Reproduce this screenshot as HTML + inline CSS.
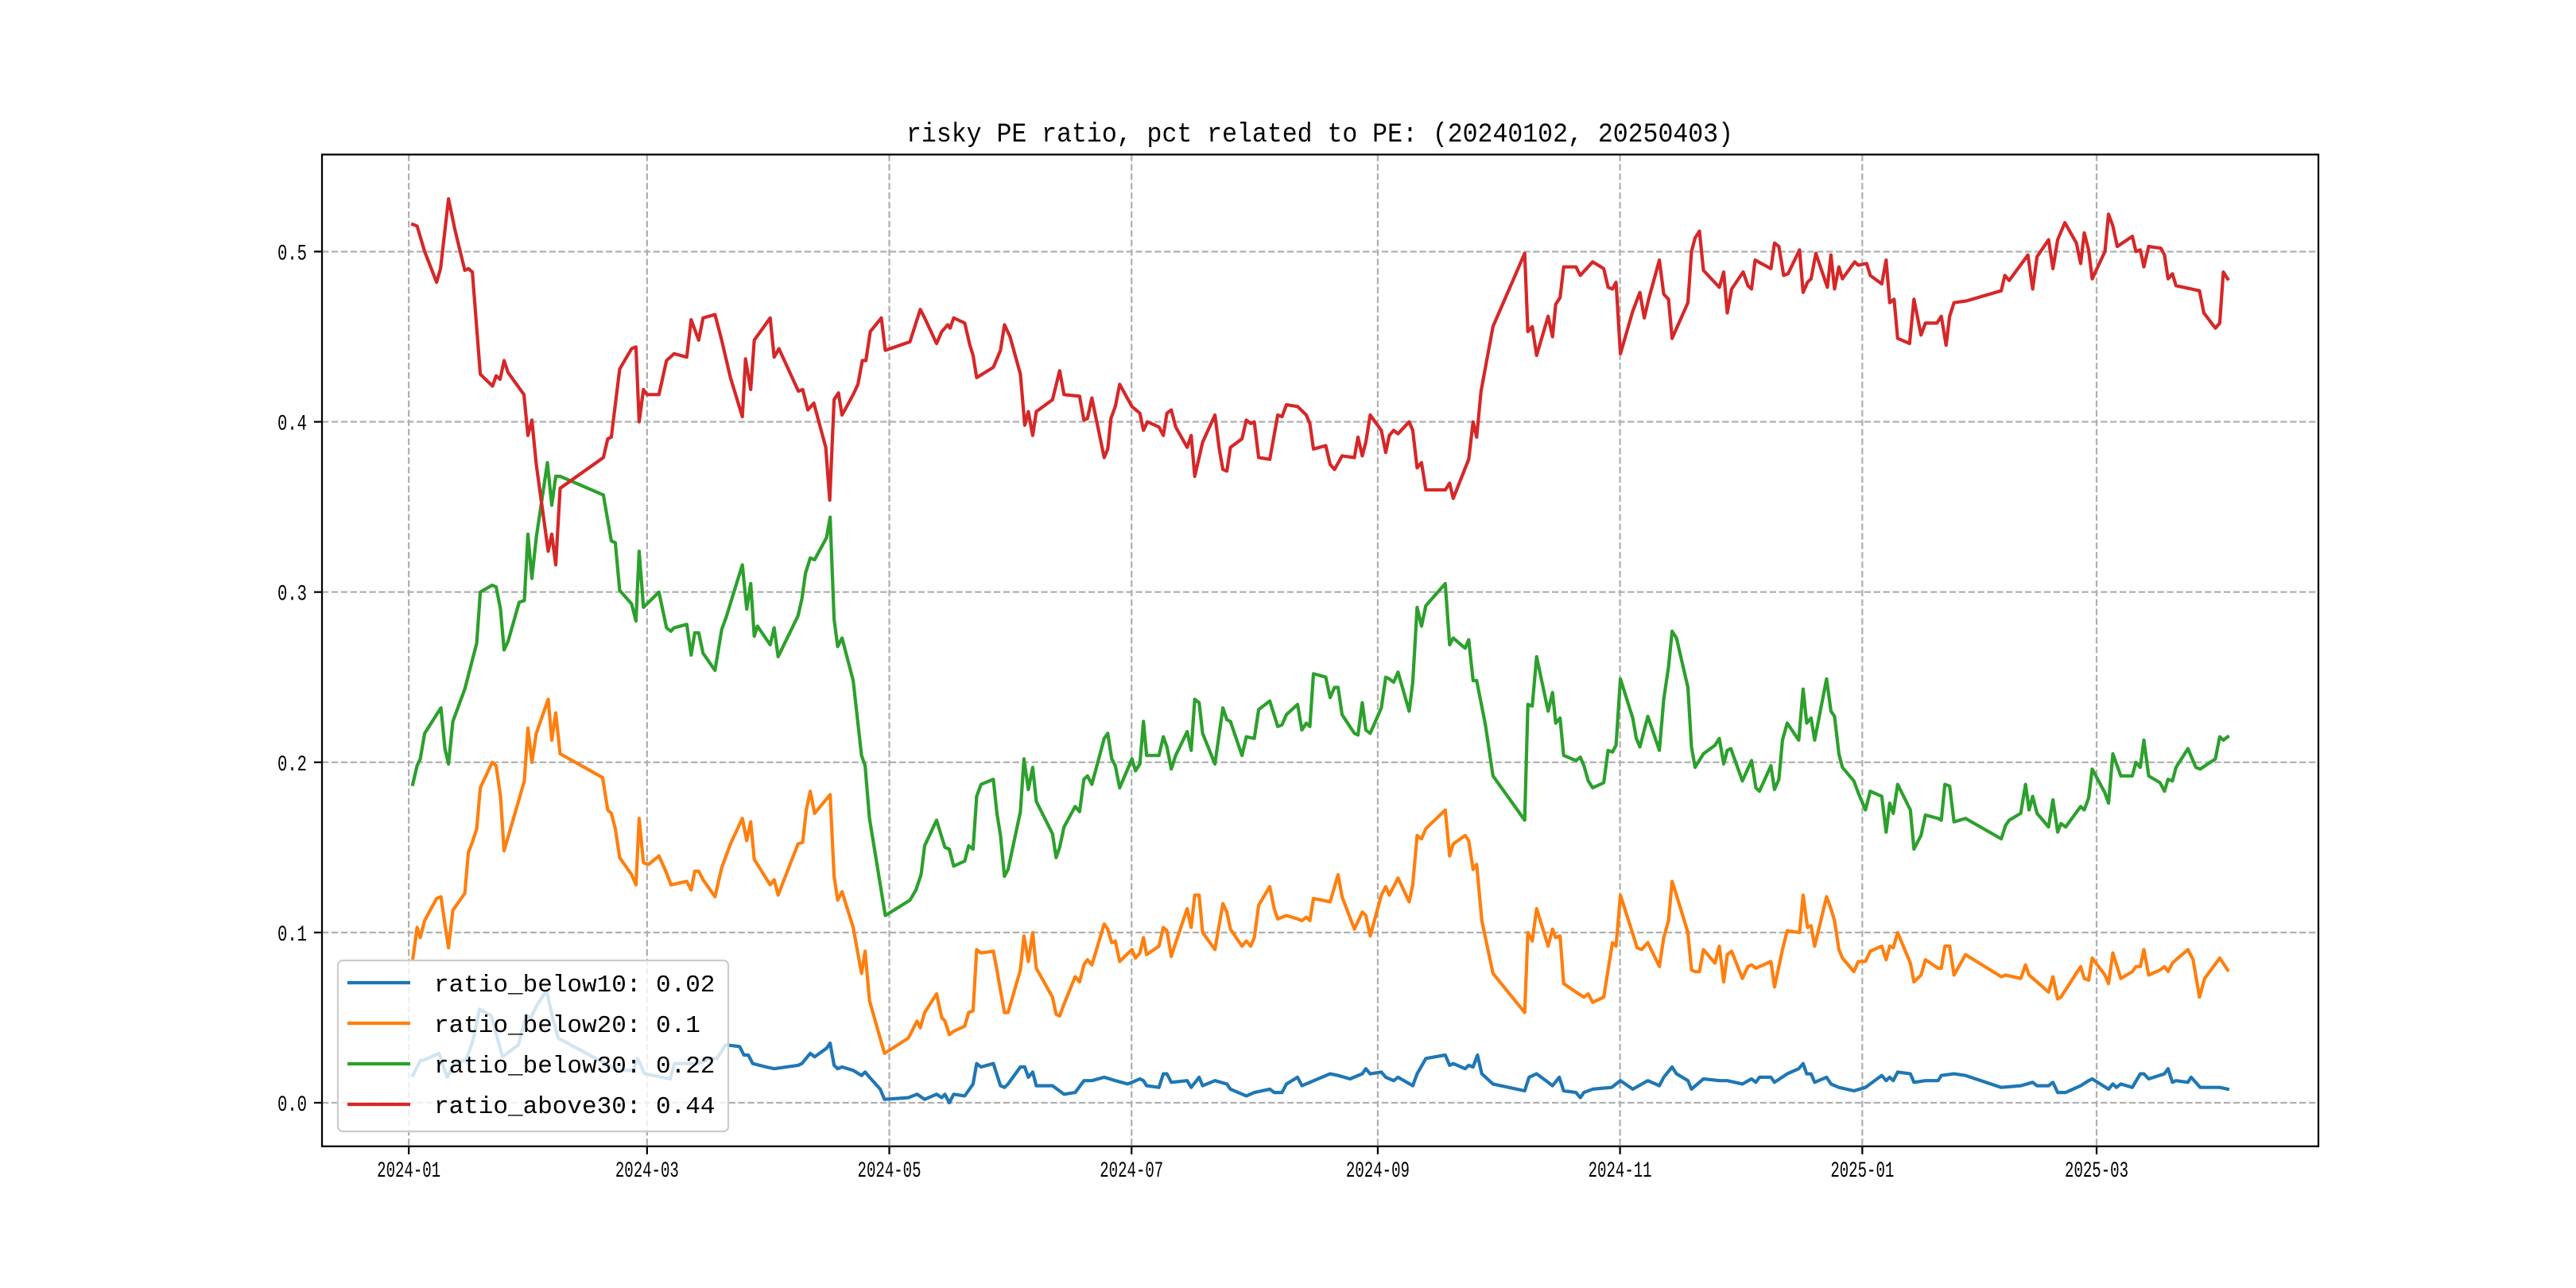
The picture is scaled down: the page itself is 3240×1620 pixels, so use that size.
<!DOCTYPE html>
<html>
<head>
<meta charset="utf-8">
<title>risky PE ratio</title>
<style>
  html, body { margin: 0; padding: 0; background: #ffffff; }
  body { width: 3240px; height: 1620px; overflow: hidden; }
  svg { display: block; }
  text { font-family: "Liberation Mono", "Noto Sans CJK SC", monospace; fill: #000; }
</style>
</head>
<body>
<svg id="chart" xmlns="http://www.w3.org/2000/svg" width="3240" height="1620" viewBox="0 0 3240 1620">
  <rect x="0" y="0" width="3240" height="1620" fill="#ffffff"/>
  <text x="1660" y="178" text-anchor="middle" font-size="34" textLength="1040" lengthAdjust="spacingAndGlyphs">risky PE ratio, pct related to PE: (20240102, 20250403)</text>
  <g id="grid"></g>
  <g id="series"></g>
  <rect x="405" y="194.4" width="2511" height="1247.4" fill="none" stroke="#000" stroke-width="2.25"/>
  <g id="ticks"></g>
  <g id="legend"></g>
</svg>
<script>
// ---- axis tick data ----
const xTickDays = [-1, 59, 120, 181, 243, 304, 365, 424];
const xTickLabels = ["2024-01", "2024-03", "2024-05", "2024-07", "2024-09", "2024-11", "2025-01", "2025-03"];
const yTickValues = [0.0, 0.1, 0.2, 0.3, 0.4, 0.5];
const yTickLabels = ["0.0", "0.1", "0.2", "0.3", "0.4", "0.5"];
const seriesNames = ["ratio_below10", "ratio_below20", "ratio_below30", "ratio_above30"];
const legendValues = ["0.02", "0.1", "0.22", "0.44"];
const seriesColors = ["#1f77b4", "#ff7f0e", "#2ca02c", "#d62728"];

// ---- series data: [day offset from 2024-01-02, value] ----
const below10 = [[0,0.016],[2,0.025],[2.7,0.025],[6.6,0.029],[8.7,0.015],[10.5,0.023],[13.4,0.025],[14.8,0.034],[15.5,0.040],[16.8,0.055],[19.8,0.051],[22.6,0.027],[26.6,0.034],[28.5,0.051],[29.8,0.050],[31.2,0.057],[33.7,0.066],[35.1,0.051],[36.6,0.038],[51.6,0.019],[55.5,0.019],[56.6,0.026],[58.4,0.017],[64.8,0.014],[65.9,0.023],[69.1,0.023],[72,0.023],[74.8,0.026],[76.6,0.026],[78.8,0.034],[82.3,0.033],[83.4,0.028],[84.5,0.028],[85.6,0.023],[89,0.021],[91,0.020],[97,0.022],[98,0.023],[100.1,0.029],[101.2,0.027],[104.2,0.032],[105.1,0.035],[106.1,0.022],[107,0.020],[108.1,0.021],[110.9,0.019],[113,0.016],[113.9,0.018],[115,0.015],[117.7,0.008],[118.8,0.002],[124.8,0.003],[127,0.005],[128.9,0.002],[131.9,0.005],[133.2,0.003],[134,0.005],[135.1,0.000],[136.2,0.005],[139,0.004],[141.1,0.011],[142,0.023],[143.1,0.021],[146.2,0.023],[148,0.010],[149,0.009],[149.9,0.011],[153,0.021],[154.1,0.021],[155,0.015],[156.1,0.018],[157,0.010],[161.1,0.010],[164,0.005],[166.8,0.006],[169,0.013],[171,0.013],[174.1,0.015],[176.9,0.013],[180,0.011],[181.1,0.012],[183.1,0.014],[184,0.013],[184.8,0.010],[187.9,0.009],[189,0.017],[189.9,0.017],[191,0.012],[195,0.013],[196,0.009],[198,0.015],[198.9,0.010],[202,0.013],[205,0.011],[205.9,0.008],[209.9,0.004],[211.9,0.006],[215.8,0.008],[216.9,0.006],[218.9,0.006],[220,0.011],[222.8,0.015],[223.9,0.010],[225.9,0.012],[231,0.017],[233,0.016],[236,0.014],[239.1,0.017],[240,0.020],[241.1,0.017],[243.9,0.018],[245,0.015],[247,0.013],[248.1,0.015],[251.8,0.010],[252.9,0.017],[255.1,0.026],[260,0.028],[261.1,0.022],[262,0.023],[265,0.020],[265.9,0.022],[267,0.021],[268.1,0.028],[269.2,0.017],[272,0.011],[280,0.007],[281.1,0.015],[283,0.017],[285.9,0.012],[287,0.010],[288.7,0.015],[289.8,0.007],[292.9,0.006],[294,0.003],[294.9,0.006],[297.1,0.008],[301.9,0.009],[303,0.011],[304.1,0.013],[307.2,0.008],[311,0.013],[313.9,0.010],[315,0.015],[317.1,0.021],[318.2,0.017],[321.1,0.013],[322,0.008],[325,0.014],[329,0.013],[331,0.013],[334.8,0.011],[337.1,0.014],[338.2,0.012],[339.1,0.015],[342,0.015],[342.9,0.012],[346.1,0.017],[349,0.020],[350.1,0.023],[351,0.017],[352.1,0.017],[353,0.012],[356,0.015],[357.1,0.011],[359.1,0.009],[362.9,0.007],[365.8,0.009],[369.9,0.016],[371,0.013],[371.9,0.015],[372.8,0.013],[373.9,0.018],[377.1,0.017],[378,0.012],[380.9,0.013],[384.1,0.013],[384.9,0.016],[388.1,0.017],[391,0.016],[400,0.009],[404.9,0.010],[407.9,0.012],[409,0.010],[411.9,0.010],[413,0.012],[414.2,0.006],[416.2,0.006],[420,0.010],[422,0.013],[422.9,0.014],[427,0.008],[428.1,0.011],[429,0.009],[430.1,0.011],[433,0.009],[435,0.017],[435.9,0.017],[437.1,0.014],[441.1,0.017],[442,0.020],[443.1,0.012],[444,0.013],[447,0.012],[447.8,0.015],[450.1,0.009],[455,0.009],[457,0.008]];

const below20 = [[0,0.084],[1.1,0.103],[1.9,0.097],[3,0.107],[6,0.120],[7.1,0.121],[8.1,0.105],[9,0.091],[10.1,0.113],[13.1,0.123],[14,0.147],[15,0.153],[16.1,0.161],[17,0.185],[20,0.200],[21,0.198],[22.1,0.180],[23,0.148],[28.1,0.189],[29,0.220],[30,0.200],[31.1,0.217],[34.1,0.237],[35,0.213],[36,0.229],[37.1,0.205],[47.8,0.191],[49.1,0.172],[50,0.170],[51,0.161],[52.1,0.144],[55.1,0.134],[56.2,0.128],[57,0.167],[58.1,0.141],[59.4,0.140],[62,0.145],[63.9,0.135],[65,0.128],[69,0.130],[70.1,0.125],[71,0.136],[72,0.136],[73.1,0.131],[76.1,0.121],[77.8,0.138],[80,0.152],[83,0.167],[84.1,0.154],[85.1,0.165],[86,0.143],[90,0.128],[91,0.131],[92,0.122],[97,0.152],[98.2,0.153],[99.1,0.172],[100.1,0.183],[101.2,0.170],[105.1,0.181],[106.1,0.133],[107,0.119],[108.1,0.124],[110.9,0.103],[113,0.076],[113.9,0.089],[115,0.060],[118.8,0.029],[124.8,0.038],[127,0.048],[127.8,0.044],[128.9,0.053],[131.9,0.064],[133.2,0.050],[134,0.048],[135.1,0.040],[136.2,0.042],[139,0.045],[140,0.053],[141.1,0.054],[142,0.090],[143.1,0.088],[146.2,0.089],[147.1,0.078],[148,0.066],[149,0.053],[149.9,0.053],[153,0.078],[153.9,0.098],[155,0.083],[156.1,0.100],[157,0.079],[161.1,0.062],[162,0.052],[162.9,0.051],[164,0.058],[166.8,0.074],[167.9,0.071],[169,0.081],[169.9,0.084],[171,0.081],[174.1,0.105],[175,0.102],[176,0.094],[176.9,0.095],[178,0.083],[181.1,0.090],[182,0.085],[183.1,0.088],[184,0.097],[184.8,0.087],[187.9,0.092],[189,0.103],[189.9,0.101],[191,0.086],[192.1,0.094],[195,0.114],[196,0.103],[196.9,0.122],[198,0.122],[198.9,0.100],[202,0.090],[204,0.117],[205,0.112],[205.9,0.102],[208.8,0.092],[209.9,0.095],[211,0.092],[211.9,0.097],[213,0.116],[215.8,0.127],[216.9,0.114],[217.8,0.108],[220,0.110],[222.8,0.108],[223.9,0.107],[225,0.109],[225.9,0.107],[226.8,0.120],[231,0.118],[233,0.134],[234,0.121],[237.1,0.102],[239.1,0.112],[240,0.110],[241.1,0.098],[243.9,0.122],[245,0.127],[245.9,0.122],[248.1,0.132],[250.9,0.118],[251.8,0.128],[252.9,0.157],[254,0.155],[255.1,0.161],[260,0.172],[261.1,0.145],[262,0.152],[265,0.157],[265.9,0.154],[267,0.137],[267.9,0.140],[269.2,0.107],[272,0.076],[280,0.053],[280.8,0.100],[281.9,0.095],[283,0.114],[285.9,0.092],[287,0.102],[287.8,0.097],[288.9,0.098],[289.8,0.070],[292.9,0.065],[294.9,0.062],[296,0.064],[297.1,0.059],[299.9,0.062],[302.1,0.094],[303,0.092],[304.1,0.122],[306.7,0.103],[308.3,0.091],[309.4,0.090],[311,0.094],[313.9,0.080],[315,0.097],[316.2,0.107],[317.1,0.130],[318.2,0.122],[321.1,0.100],[322,0.078],[322.9,0.077],[324,0.077],[325,0.090],[327.9,0.082],[329,0.092],[330.1,0.071],[331,0.087],[332.1,0.089],[334.8,0.073],[336.2,0.080],[337.1,0.081],[338.2,0.079],[342,0.083],[342.9,0.068],[344.9,0.090],[346.1,0.101],[349.2,0.100],[350.1,0.122],[351.2,0.103],[352.1,0.104],[353,0.092],[356,0.121],[357.1,0.114],[358,0.107],[359.1,0.090],[360,0.085],[362.9,0.077],[364,0.083],[365.8,0.083],[367,0.089],[369.9,0.092],[371,0.084],[371.9,0.092],[372.8,0.091],[373.9,0.100],[377.1,0.082],[378,0.071],[379.8,0.075],[380.9,0.084],[384.1,0.079],[384.9,0.079],[385.8,0.092],[387,0.092],[388.1,0.075],[391,0.087],[400,0.074],[401.1,0.075],[404.9,0.073],[406.1,0.081],[407,0.075],[409,0.071],[411.9,0.065],[413,0.074],[414.2,0.061],[415,0.062],[420,0.080],[420.9,0.073],[422,0.072],[422.9,0.085],[426.1,0.075],[427,0.070],[428.1,0.088],[430.1,0.073],[433,0.077],[433.9,0.080],[435,0.080],[435.9,0.090],[437.1,0.075],[440,0.078],[441.1,0.080],[442,0.077],[443.1,0.082],[444,0.084],[447,0.090],[448.3,0.084],[449.9,0.062],[451.2,0.073],[455,0.085],[457,0.078]];

const below30 = [[0,0.187],[1.1,0.198],[1.9,0.202],[3,0.217],[7.1,0.232],[8.1,0.208],[9,0.199],[10.1,0.224],[13.1,0.243],[16.1,0.270],[17,0.300],[20,0.304],[21,0.303],[22.1,0.290],[23,0.266],[24,0.271],[26.8,0.294],[28.1,0.295],[29,0.334],[30,0.308],[31.1,0.332],[33.9,0.376],[35,0.351],[36,0.368],[37.1,0.368],[48,0.357],[50,0.330],[51,0.329],[52.1,0.301],[55.1,0.293],[56.2,0.283],[57,0.324],[58.1,0.291],[62,0.300],[63.9,0.279],[65,0.277],[65.8,0.279],[69,0.281],[70.1,0.263],[71,0.276],[72,0.276],[73.1,0.264],[76.1,0.254],[77.8,0.278],[78.9,0.285],[83,0.316],[84.1,0.290],[85.1,0.305],[86,0.274],[86.8,0.280],[90,0.269],[91,0.279],[92,0.262],[97,0.286],[98,0.296],[98.9,0.311],[100.1,0.320],[101.2,0.319],[104.2,0.332],[105.1,0.344],[106.1,0.284],[107,0.268],[108.1,0.273],[110.9,0.248],[113,0.204],[113.9,0.198],[115,0.167],[119,0.110],[125.2,0.119],[126.7,0.125],[128,0.134],[128.9,0.151],[131.9,0.166],[133.2,0.156],[134,0.150],[135.1,0.149],[136.2,0.139],[139,0.142],[140,0.151],[141.1,0.149],[142,0.180],[143.1,0.187],[146.2,0.190],[147.1,0.170],[148,0.157],[149,0.133],[149.9,0.137],[153,0.171],[153.9,0.202],[155,0.184],[156.1,0.197],[157,0.177],[161.1,0.158],[162,0.144],[162.9,0.150],[164,0.162],[166.8,0.174],[167.9,0.171],[169,0.190],[169.9,0.192],[171,0.187],[174.1,0.214],[175,0.217],[176,0.202],[176.9,0.198],[178,0.185],[181.1,0.202],[182,0.195],[183.1,0.199],[184,0.224],[184.8,0.204],[187.9,0.204],[189,0.215],[189.9,0.209],[191,0.196],[192.1,0.204],[195,0.218],[196,0.207],[196.9,0.237],[198,0.235],[198.9,0.217],[202,0.199],[204,0.232],[205,0.225],[205.9,0.224],[208.8,0.204],[209.9,0.215],[211.9,0.214],[213,0.231],[215.8,0.236],[217.8,0.221],[218.9,0.222],[220,0.228],[222.8,0.234],[223.9,0.219],[225,0.223],[225.9,0.221],[226.8,0.252],[229.9,0.250],[231,0.238],[232.1,0.244],[233,0.244],[234,0.228],[237.1,0.217],[238,0.216],[239.1,0.235],[240,0.219],[241.1,0.217],[243.9,0.232],[245,0.250],[245.9,0.249],[247,0.247],[248.1,0.253],[250.9,0.230],[251.8,0.247],[252.9,0.291],[254,0.280],[255.1,0.292],[260,0.305],[261.1,0.269],[262,0.273],[265,0.267],[265.9,0.272],[267,0.248],[267.9,0.248],[270.1,0.222],[272,0.192],[280,0.166],[280.8,0.234],[281.9,0.233],[283,0.262],[285.9,0.230],[287,0.241],[287.8,0.223],[288.9,0.226],[289.8,0.204],[292.9,0.201],[294,0.203],[294.9,0.198],[296,0.189],[297.1,0.185],[299.9,0.188],[301,0.207],[302.1,0.206],[303,0.210],[304.1,0.249],[307.2,0.226],[308.1,0.214],[309,0.209],[310.1,0.219],[311,0.227],[313.9,0.207],[315,0.237],[316.2,0.256],[317.1,0.277],[318.2,0.273],[321.1,0.244],[322,0.209],[322.9,0.197],[325,0.205],[327.9,0.210],[329,0.214],[330.1,0.199],[331,0.207],[331.9,0.208],[334.8,0.189],[337.1,0.201],[338.2,0.185],[339.1,0.183],[342,0.198],[342.9,0.184],[344,0.190],[344.9,0.213],[346.1,0.223],[349,0.213],[350.1,0.243],[351,0.223],[352.1,0.226],[353,0.213],[356,0.249],[357.1,0.230],[358,0.227],[359.1,0.205],[360,0.197],[362.9,0.189],[364,0.182],[365.8,0.172],[367,0.183],[369.9,0.180],[371,0.159],[371.9,0.176],[372.8,0.170],[373.9,0.187],[377.1,0.172],[378,0.149],[379.8,0.157],[380.9,0.169],[384.1,0.167],[384.9,0.166],[385.8,0.187],[387,0.186],[388.1,0.165],[391,0.167],[400,0.155],[401.1,0.163],[402,0.166],[404.9,0.170],[406.1,0.187],[407,0.172],[407.9,0.180],[409,0.170],[411.9,0.162],[413,0.178],[414.2,0.159],[415,0.164],[416.2,0.162],[420,0.174],[420.9,0.172],[422,0.179],[422.9,0.196],[426.1,0.182],[427,0.176],[428.1,0.205],[430.1,0.192],[433,0.192],[433.9,0.200],[435,0.197],[435.9,0.213],[437.1,0.192],[440,0.188],[441.1,0.183],[442,0.190],[443.1,0.189],[444,0.197],[447,0.208],[449,0.197],[450.1,0.196],[453.9,0.202],[455,0.215],[455.9,0.213],[457,0.215]];

const above30 = [[0,0.516],[1.1,0.515],[3,0.500],[6,0.482],[7,0.490],[9,0.531],[10.7,0.512],[13.1,0.489],[14,0.490],[15,0.488],[17,0.428],[20.1,0.421],[21,0.427],[22,0.425],[23,0.436],[24,0.429],[28,0.416],[29,0.392],[30,0.401],[31.1,0.375],[34.1,0.324],[35,0.334],[36,0.316],[37.1,0.361],[48,0.379],[49.1,0.390],[50,0.391],[52.1,0.431],[55.1,0.443],[56.2,0.444],[57,0.400],[58.1,0.419],[59,0.416],[62,0.416],[63.9,0.436],[65.8,0.440],[69,0.438],[70.1,0.460],[72,0.448],[73.1,0.461],[76.1,0.463],[77.8,0.448],[80,0.426],[83,0.403],[83.8,0.437],[85.1,0.419],[86,0.448],[90,0.461],[91,0.438],[92.2,0.443],[97.1,0.418],[98.2,0.419],[99.5,0.407],[101,0.411],[104,0.385],[105,0.354],[106.1,0.413],[107.2,0.417],[108.1,0.404],[110.9,0.416],[112.1,0.422],[113.2,0.436],[114.1,0.436],[115.2,0.453],[118,0.461],[119,0.442],[125.2,0.447],[127.8,0.466],[128.9,0.461],[131.9,0.446],[133.2,0.453],[134.7,0.457],[135.3,0.455],[136.2,0.461],[139,0.458],[140.3,0.445],[141.1,0.439],[142,0.426],[146.2,0.432],[148,0.442],[149,0.457],[150.4,0.450],[153,0.428],[154.1,0.398],[155,0.406],[156.1,0.392],[157,0.406],[161.1,0.413],[162.9,0.430],[164,0.416],[167.9,0.415],[169,0.401],[169.9,0.402],[171,0.414],[174.1,0.379],[175,0.384],[175.8,0.402],[176.9,0.409],[178,0.422],[181.1,0.409],[183.1,0.405],[184,0.395],[185,0.400],[187.9,0.397],[189,0.392],[189.9,0.405],[191,0.407],[192.1,0.397],[195,0.385],[196,0.392],[196.9,0.368],[198.9,0.388],[202,0.404],[203.1,0.384],[204,0.372],[205,0.371],[205.9,0.385],[208.8,0.390],[209.9,0.401],[211,0.399],[211.9,0.400],[213,0.379],[215.8,0.378],[217.8,0.404],[218.9,0.403],[220,0.410],[222.8,0.409],[225,0.404],[225.9,0.399],[226.8,0.384],[229.9,0.386],[231,0.375],[232.1,0.372],[234,0.380],[237.1,0.379],[238,0.391],[239.1,0.380],[240,0.388],[241.1,0.404],[243.9,0.395],[245,0.382],[245.9,0.392],[247,0.395],[248.1,0.393],[250.9,0.400],[251.8,0.395],[252.9,0.373],[254,0.376],[255.1,0.360],[260,0.360],[261.1,0.364],[262,0.355],[265.9,0.378],[267,0.400],[267.9,0.391],[269,0.418],[272,0.456],[280,0.499],[280.8,0.453],[281.9,0.456],[283,0.439],[285.9,0.462],[287,0.450],[287.8,0.469],[288.9,0.473],[289.8,0.491],[292.9,0.491],[294,0.486],[297.1,0.494],[299.9,0.490],[301,0.479],[302.1,0.478],[303,0.482],[304.1,0.440],[307.2,0.465],[309,0.476],[310.1,0.461],[311.2,0.472],[313.9,0.495],[315,0.475],[316.2,0.472],[317.1,0.449],[321.1,0.470],[322,0.500],[322.9,0.508],[324,0.512],[325,0.489],[329,0.479],[330.1,0.488],[331,0.464],[332.1,0.478],[335,0.488],[336.2,0.480],[337.1,0.478],[338,0.495],[342,0.490],[342.9,0.505],[344,0.503],[345.2,0.486],[346.3,0.487],[349.2,0.501],[350.1,0.476],[351.2,0.482],[352.1,0.484],[353.3,0.499],[356.2,0.479],[357.1,0.498],[358,0.478],[359.1,0.491],[360,0.484],[363.1,0.494],[364,0.492],[366.1,0.493],[367,0.486],[369.9,0.481],[371,0.495],[371.9,0.470],[373,0.472],[373.9,0.449],[376.9,0.446],[378,0.472],[379.8,0.451],[380.9,0.458],[383.8,0.458],[384.9,0.462],[386.1,0.445],[387,0.462],[388.1,0.470],[391.2,0.471],[400,0.477],[400.9,0.486],[402,0.483],[406.7,0.498],[407.9,0.478],[409,0.497],[411.9,0.507],[413,0.490],[414.2,0.507],[416,0.517],[418.9,0.505],[420,0.493],[420.9,0.511],[422,0.501],[422.9,0.484],[426.1,0.500],[427,0.522],[428.1,0.515],[429.2,0.503],[433,0.509],[433.9,0.500],[435,0.501],[435.9,0.491],[437.1,0.503],[440.2,0.502],[441.1,0.498],[442,0.484],[443.1,0.487],[444,0.480],[449.9,0.477],[451,0.464],[453.9,0.455],[455,0.458],[455.9,0.488],[457,0.484]];

// ---- axis setup ----
const NS = "http://www.w3.org/2000/svg";
const AX = { left: 405, right: 2916, top: 194.4, bottom: 1441.8 };
const firstDay = 0, lastDay = 457;
const xPad = (lastDay - firstDay) * 0.05;
const xMin = firstDay - xPad, xMax = lastDay + xPad;
const yMin = -0.0256, yMax = 0.557;
function xScale(d) { return AX.left + (d - xMin) / (xMax - xMin) * (AX.right - AX.left); }
function yScale(v) { return AX.bottom - (v - yMin) / (yMax - yMin) * (AX.bottom - AX.top); }
function mk(tag, attrs) {
  const el = document.createElementNS(NS, tag);
  for (const k in attrs) el.setAttribute(k, attrs[k]);
  return el;
}

const grid = document.getElementById("grid");
const ticks = document.getElementById("ticks");

// x grid + ticks
xTickDays.forEach((d, i) => {
  const x = xScale(d);
  const gl = mk("line", { x1: x, x2: x, y1: AX.top, y2: AX.bottom, stroke: "#b0b0b0", "stroke-width": 2.25, "stroke-dasharray": "8.3 3.6" });
  
  
  grid.appendChild(gl);
  const tk = mk("line", { x1: x, x2: x, y1: AX.bottom, y2: AX.bottom + 10, stroke: "#000", "stroke-width": 2.25 });
  
  
  ticks.appendChild(tk);
  const tx = mk("text", { x: x, y: AX.bottom + 38, "text-anchor": "middle", "font-size": 28, textLength: 80, lengthAdjust: "spacingAndGlyphs" });
  tx.textContent = xTickLabels[i];
  
  
  ticks.appendChild(tx);
});

// y grid + ticks
yTickValues.forEach((v, i) => {
  const y = yScale(v);
  const gl = mk("line", { x1: AX.left, x2: AX.right, y1: y, y2: y, stroke: "#b0b0b0", "stroke-width": 2.25, "stroke-dasharray": "8.3 3.6" });
  
  
  grid.appendChild(gl);
  const tk = mk("line", { x1: AX.left - 10, x2: AX.left, y1: y, y2: y, stroke: "#000", "stroke-width": 2.25 });
  
  
  ticks.appendChild(tk);
  const tx = mk("text", { x: AX.left - 19, y: y + 10, "text-anchor": "end", "font-size": 28, textLength: 37, lengthAdjust: "spacingAndGlyphs" });
  tx.textContent = yTickLabels[i];
  
  
  ticks.appendChild(tx);
});

// series
const seriesGroup = document.getElementById("series");
const allSeries = [below10, below20, below30, above30];
const seriesKeys = ["line-below10", "line-below20", "line-below30", "line-above30"];
allSeries.forEach((s, i) => {
  const pts = s.map(p => xScale(p[0]).toFixed(1) + "," + yScale(p[1]).toFixed(1)).join(" ");
  const pl = mk("polyline", { points: pts, fill: "none", stroke: seriesColors[i], "stroke-width": 4.2, "stroke-linejoin": "round", "stroke-linecap": "square" });
  
  
  seriesGroup.appendChild(pl);
});

// legend
const legend = document.getElementById("legend");
const box = mk("rect", { x: 425, y: 1208, width: 491, height: 215, rx: 6, ry: 6, fill: "#ffffff", "fill-opacity": 0.8, stroke: "#cccccc", "stroke-width": 2.25 });


legend.appendChild(box);
const rowY = [1236, 1287, 1338, 1389];
seriesNames.forEach((n, i) => {
  const ln = mk("line", { x1: 437, x2: 516, y1: rowY[i], y2: rowY[i], stroke: seriesColors[i], "stroke-width": 4.2 });
  
  
  legend.appendChild(ln);
  const label = n + ": " + legendValues[i];
  const tx = mk("text", { x: 546, y: rowY[i] + 11, "font-size": 31, textLength: (label.length * 18.6).toFixed(1), lengthAdjust: "spacingAndGlyphs" });
  tx.textContent = label;
  
  
  legend.appendChild(tx);
});
</script>
</body>
</html>
